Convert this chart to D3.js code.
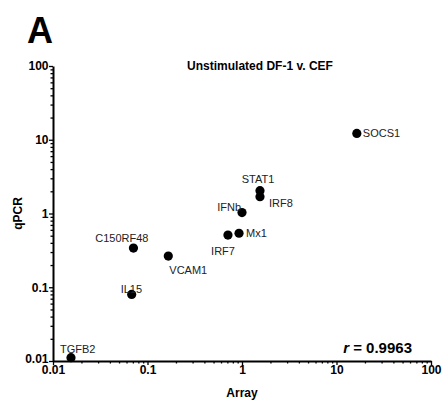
<!DOCTYPE html>
<html>
<head>
<meta charset="utf-8">
<script src="https://cdn.jsdelivr.net/npm/d3@7"></script>
<style>
  body { margin: 0; background: #fff; }
  svg { font-family: "Liberation Sans", Arial, Helvetica, sans-serif; }
</style>
</head>
<body>
<div id="chart"></div>
<script>
// data (Array vs qPCR fold change)
const genes = ["SOCS1", "STAT1", "IRF8", "IFNb", "Mx1", "IRF7", "C150RF48", "VCAM1", "IL15", "TGFB2"]
const arrayVals = [16.4, 1.55, 1.55, 1.0, 0.93, 0.71, 0.071, 0.166, 0.068, 0.0155]
const qpcrVals = [12.2, 2.04, 1.69, 1.03, 0.54, 0.51, 0.34, 0.265, 0.080, 0.0111]
const majorTicks = [0.01, 0.1, 1, 10, 100]
const tickLabels = ["0.01", "0.1", "1", "10", "100"]

// label placement next to each dot: dx, dy, anchor
const labelPos = {
    SOCS1: [6, 4, "start"],
    STAT1: [-2, -8, "middle"],
    IRF8: [9, 10, "start"],
    IFNb: [-1, -2, "end"],
    Mx1: [7, 4, "start"],
    IRF7: [7, 20, "end"],
    C150RF48: [15, -6, "end"],
    VCAM1: [1, 18, "start"],
    IL15: [-11, -1, "start"],
    TGFB2: [-11, -5, "start"]
}

const width = 445
const height = 401

const svg = d3.select("#chart").append("svg")
    .attr("width", width)
    .attr("height", height)

const x = d3.scaleLog().domain([0.01, 100]).range([53, 431])
const y = d3.scaleLog().domain([0.01, 100]).range([361, 66])

// minor ticks 2..9 in each decade
let minor = []
for (let d = 0.01; d < 100; d *= 10) {
    for (let k = 2; k <= 9; k++) minor.push(d * k)
}

const fmt = d => tickLabels[majorTicks.indexOf(d)]

// x axis
svg.append("g")
    .attr("transform", `translate(0,${y(0.01)})`)
    .call(d3.axisBottom(x).tickValues(minor).tickSize(2.5).tickFormat(""))
    .call(g => g.select(".domain").remove())
svg.append("g")
    .attr("transform", `translate(0,${y(0.01)})`)
    .call(d3.axisBottom(x).tickValues(majorTicks).tickSize(4).tickSizeOuter(0).tickFormat(fmt))
    .call(g => g.selectAll("text").attr("font-size", 12).attr("font-weight", "bold").attr("y", 4))

// y axis
svg.append("g")
    .attr("transform", `translate(${x(0.01)},0)`)
    .call(d3.axisLeft(y).tickValues(minor).tickSize(2.5).tickFormat(""))
    .call(g => g.select(".domain").remove())
svg.append("g")
    .attr("transform", `translate(${x(0.01)},0)`)
    .call(d3.axisLeft(y).tickValues(majorTicks).tickSize(4).tickSizeOuter(0).tickFormat(fmt))
    .call(g => g.selectAll("text").attr("font-size", 12).attr("font-weight", "bold").attr("x", -4.5))
    .call(g => g.selectAll(".tick").filter(d => d === 0.01).select("text").attr("dy", "0.15em"))

svg.selectAll(".domain").attr("stroke-width", 2)
svg.selectAll(".tick line").attr("stroke-width", 1.3)
svg.selectAll(".tick text").attr("fill", "#000")

// points
const pts = genes.map((g, i) => ({ gene: g, a: arrayVals[i], q: qpcrVals[i] }))

svg.append("g")
    .selectAll("circle")
    .data(pts)
    .join("circle")
    .attr("cx", d => x(d.a))
    .attr("cy", d => y(d.q))
    .attr("r", 4.6)
    .attr("fill", "#000")

svg.append("g")
    .selectAll("text")
    .data(pts)
    .join("text")
    .attr("x", d => x(d.a) + labelPos[d.gene][0])
    .attr("y", d => y(d.q) + labelPos[d.gene][1])
    .attr("text-anchor", d => labelPos[d.gene][2])
    .attr("font-size", 11)
    .attr("fill", "#222")
    .text(d => d.gene)

// titles
svg.append("text")
    .attr("x", 27).attr("y", 43)
    .attr("font-size", 36).attr("font-weight", "bold")
    .text("A")

svg.append("text")
    .attr("x", 260).attr("y", 70)
    .attr("text-anchor", "middle")
    .attr("font-size", 12).attr("font-weight", "bold")
    .text("Unstimulated DF-1 v. CEF")

svg.append("text")
    .attr("x", 242).attr("y", 397)
    .attr("text-anchor", "middle")
    .attr("font-size", 12).attr("font-weight", "bold")
    .text("Array")

svg.append("text")
    .attr("transform", `translate(22,${(y(0.01) + y(100)) / 2}) rotate(-90)`)
    .attr("text-anchor", "middle")
    .attr("font-size", 12).attr("font-weight", "bold")
    .text("qPCR")

const rt = svg.append("text")
    .attr("x", 412).attr("y", 353)
    .attr("text-anchor", "end")
    .attr("font-size", 15).attr("font-weight", "bold")
rt.append("tspan").attr("font-style", "italic").text("r")
rt.append("tspan").text(" = 0.9963")
</script>
</body>
</html>
